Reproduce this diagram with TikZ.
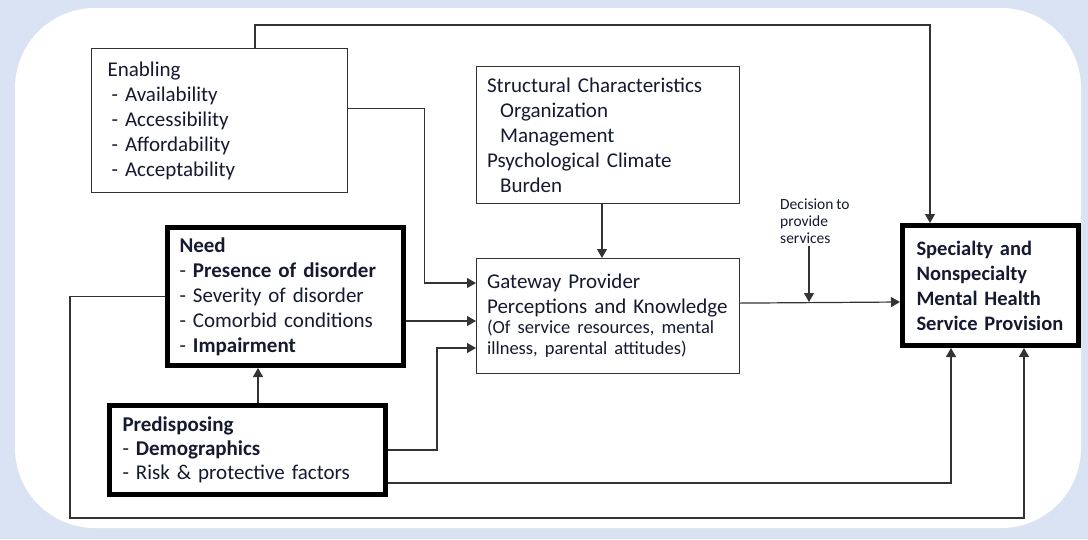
\documentclass[tikz,border=0pt]{standalone}
\usepackage{fontspec}
\setmainfont{Carlito}[WordSpace=0.8]
\usetikzlibrary{arrows.meta,positioning,calc}
\definecolor{ink}{HTML}{161A30}
\definecolor{wire}{HTML}{333333}
\definecolor{frame}{HTML}{DAE3F3}
\tikzset{
  box/.style={draw=wire,line width=1.2pt,fill=white,text=ink,anchor=north west,
    align=left,inner ysep=0pt,font=\fontsize{21}{25}\selectfont},
  thinbox/.style={box},
  heavybox/.style={box,draw=black,line width=5pt},
  arrow/.style={-{Triangle[length=9pt,width=10pt]},line width=1.2pt,draw=wire},
  smalllabel/.style={font=\fontsize{15.5}{17}\selectfont,text=ink,align=left,
    anchor=north west,inner sep=2pt}
}

\begin{document}
\hyphenpenalty=10000
\begin{tikzpicture}[x=1pt,y=-1pt]
\useasboundingbox (0,0) rectangle (1088,539);
\fill[frame] (0,0) rectangle (1088,539);
\fill[white,rounded corners=80pt] (15,8) rectangle (1081,528);

% Left column: enabling, need, predisposing
\node[thinbox,minimum width=256pt,minimum height=144pt,text width=224pt,inner xsep=15pt]
  (enab) at (91,48)
  {Enabling\\
   \hspace*{4pt}- Availability\\
   \hspace*{4pt}- Accessibility\\
   \hspace*{4pt}- Affordability\\
   \hspace*{4pt}- Acceptability};
\node[heavybox,minimum width=236pt,minimum height=138pt,text width=212pt,inner xsep=11pt]
  (need) at (165,225)
  {\textbf{Need}\\
   - \textbf{Presence of disorder}\\
   - Severity of disorder\\
   - Comorbid conditions\\
   - \textbf{Impairment}};
\node[heavybox,minimum width=276pt,minimum height=89pt,text width=250pt,inner xsep=12pt,font=\fontsize{21}{24}\selectfont]
  (pred) at (107,403)
  {\textbf{Predisposing}\\
   - \textbf{Demographics}\\
   - Risk \& protective factors};

% Middle column: organisation and gateway provider
\node[thinbox,minimum width=263pt,minimum height=137pt,text width=242pt,inner xsep=10pt]
  (struct) at (476,66)
  {Structural Characteristics\\
   \hspace*{13pt}Organization\\
   \hspace*{13pt}Management\\
   Psychological Climate\\
   \hspace*{13pt}Burden};
\node[thinbox,minimum width=263pt,minimum height=115pt,text width=242pt,inner xsep=10pt]
  (gate) at (476,258)
  {Gateway Provider\\
   Perceptions and Knowledge\\[0pt]
   {\fontsize{18.5}{20}\selectfont (Of service resources, mental\\[-4pt]
   illness, parental attitudes)}};

% Right column: outcome
\node[heavybox,minimum width=176pt,minimum height=120pt,text width=148pt,inner xsep=14pt,
  font=\fontsize{20.5}{25}\selectfont]
  (spec) at (900,223)
  {\textbf{Specialty and}\\
   \textbf{Nonspecialty}\\
   \textbf{Mental Health}\\
   \textbf{Service Provision}};
\node[smalllabel] (dec) at (778,197) {Decision to\\provide\\services};

% Bend points
\coordinate (topbend) at (930,25);
\coordinate (loopbl) at (70,518);
\coordinate (decpt) at (809,302);
\coordinate (gin1) at ([yshift=-25pt]gate.north west);
\coordinate (gin2) at ([yshift=-63pt]gate.north west);
\coordinate (gin3) at ([yshift=-90pt]gate.north west);

% Connectors
\draw[arrow] ([xshift=164pt]enab.north west) |- (topbend) -- (topbend |- spec.north);
\draw[arrow] ([yshift=12pt]enab.east) -- ++(76,0) |- (gin1);
\draw[arrow] ([xshift=126pt]struct.south west) -- ([xshift=126pt]gate.north west);
\draw[arrow] (need.east |- gin2) -- (gin2);
\draw[arrow] (pred.east) -- ++(49,0) |- (gin3);
\draw[arrow] ([xshift=151pt]pred.north west) -- ([xshift=93pt]need.south west);
\draw[arrow] ([yshift=13pt]gate.east) -- (spec.west |- decpt);
\draw[arrow] (decpt |- dec.south) -- (decpt);
\draw[arrow] ([yshift=-33pt]pred.east) -| ([xshift=51pt]spec.south west);
\draw[arrow] (need.west) -| (loopbl) -| ([xshift=124pt]spec.south west);

\end{tikzpicture}
\end{document}
